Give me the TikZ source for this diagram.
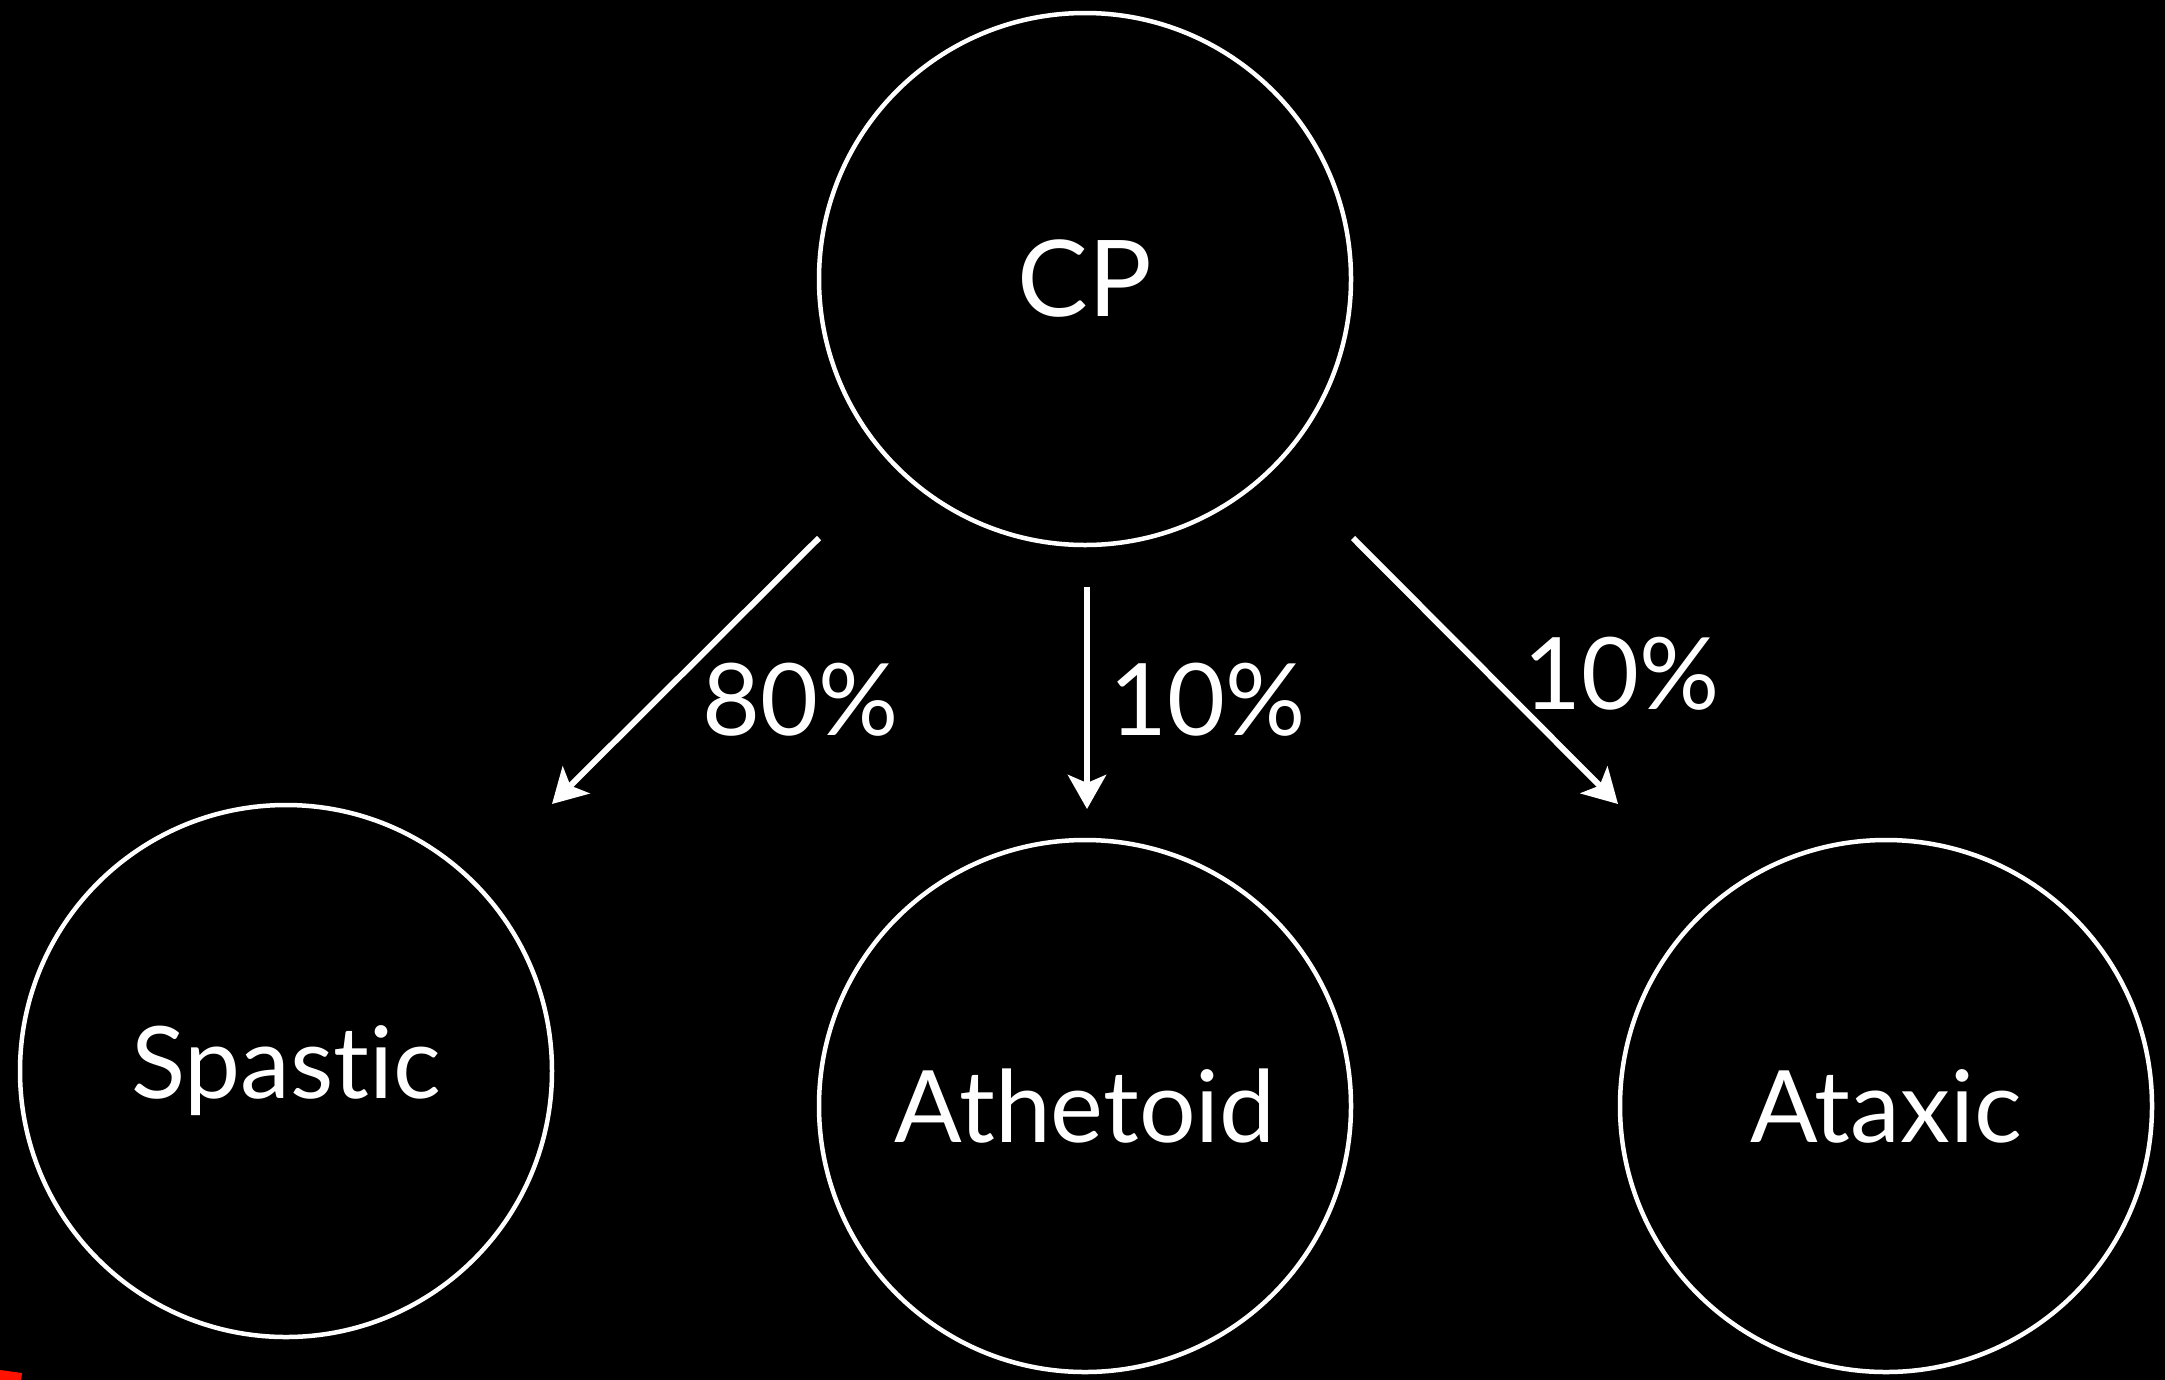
\documentclass[tikz,border=0pt]{standalone}
\usepackage{fontspec}
\setmainfont[Ligatures=NoCommon]{Lato}
\usetikzlibrary{arrows.meta}
\begin{document}
\begin{tikzpicture}[x=1pt,y=-1pt,
  bubble/.style={circle,draw=white,line width=4.5pt,minimum size=532pt,inner sep=0pt,text=white,font=\fontsize{100}{110}\selectfont},
  flow/.style={draw=white,line width=6pt,-{Stealth[length=34pt,width=38pt,inset=8pt]}},
  pct/.style={text=white,font=\fontsize{100}{110}\selectfont,inner sep=0pt}]
\useasboundingbox (0,0) rectangle (2165,1379);
\fill[black] (-10,-10) rectangle (2175,1389);
\fill[red!85!orange] (0,1370) -- (22,1373) -- (20,1389) -- (0,1389) -- cycle;
\node[bubble] (cp) at (1085,279) {\fontsize{106}{110}\selectfont CP};
\node[bubble] (spastic) at (286,1071) {Spastic};
\node[bubble] (athetoid) at (1085,1106) {Athetoid};
\node[bubble] (ataxic) at (1886,1106) {Ataxic};
\coordinate (a1s) at (819,538);
\coordinate (a1e) at (552,804);
\coordinate (a2s) at (1087,587);
\coordinate (a2e) at (1087,809);
\coordinate (a3s) at (1353,538);
\coordinate (a3e) at (1618,804);
\draw[flow] (a1s) -- (a1e);
\draw[flow] (a2s) -- (a2e);
\draw[flow] (a3s) -- (a3e);
\node[pct] (l1) at (801,700) {80\%};
\node[pct] (l2) at (1208,700) {10\%};
\node[pct] (l3) at (1622,674) {10\%};
\end{tikzpicture}
\end{document}
